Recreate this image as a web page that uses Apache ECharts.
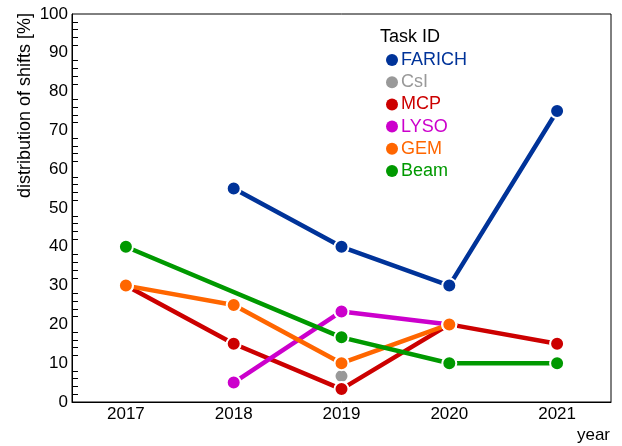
<!DOCTYPE html>
<html><head><meta charset="utf-8">
<script src="https://cdn.jsdelivr.net/npm/echarts@6/dist/echarts.min.js"></script>
<style>html,body{margin:0;padding:0;background:#fff}#c{width:622px;height:446px}</style>
</head><body><div id="c"></div>
<script>
const years = ['2017','2018','2019','2020','2021'];
const seriesNames = ['FARICH','CsI','MCP','LYSO','GEM','Beam'];
const farich = [null, 55, 40, 30, 75];
const csi    = [null, null, 6.67, null, null];
const mcp    = [30, 15, 3.33, 20, 15];
const lyso   = [null, 5, 23.33, 20, null];
const gem    = [30, 25, 10, 20, null];
const beam   = [40, null, 16.67, 10, 10];
const colors = ['#003399','#999999','#cc0000','#cc00cc','#ff6600','#009900'];
const values = [farich, csi, mcp, lyso, gem, beam];

const FONT = '"Liberation Sans", Arial, sans-serif';
const chart = echarts.init(document.getElementById('c'));
chart.setOption({
  animation: false,
  textStyle: {fontFamily: FONT},
  grid: {left: 72, right: 11, top: 14, bottom: 44, show: true, borderColor: '#000', borderWidth: 1},
  legend: {
    orient: 'vertical', left: 381, top: 46,
    icon: 'circle', itemWidth: 12, itemHeight: 12, itemGap: 4.2,
    itemStyle: {borderWidth: 0},
    textStyle: {fontSize: 18, fontFamily: FONT, lineHeight: 18, padding: [0,0,0,-2]},
    data: seriesNames.map((n, i) => ({name: n, textStyle: {color: colors[i]}}))
  },
  xAxis: {
    type: 'category', data: years, boundaryGap: true,
    axisLine: {lineStyle: {color: '#000', width: 1}},
    axisTick: {inside: true, alignWithLabel: true, length: 9, lineStyle: {color: '#000'}},
    axisLabel: {fontSize: 17, color: '#000', margin: 4, fontFamily: FONT},
    splitLine: {show: false}
  },
  yAxis: {
    type: 'value', min: 0, max: 100, interval: 10,
    axisLine: {show: true, lineStyle: {color: '#000', width: 1}},
    axisTick: {inside: true, length: 10, lineStyle: {color: '#000'}},
    minorTick: {show: true, splitNumber: 5, length: 6, lineStyle: {color: '#000'}},
    axisLabel: {fontSize: 17, color: '#000', margin: 4, fontFamily: FONT},
    splitLine: {show: false}
  },
  graphic: [
    {type: 'text', left: 380, top: 28, style: {text: 'Task ID', fontSize: 18, fill: '#000', fontFamily: FONT}},
    {type: 'text', x: 25, y: 13, rotation: Math.PI / 2,
     style: {text: 'distribution of shifts [%]', fontSize: 18, fill: '#000', fontFamily: FONT, align: 'right', verticalAlign: 'middle'}},
    {type: 'text', right: 12, top: 427, style: {text: 'year', fontSize: 17, fill: '#000', fontFamily: FONT}}
  ],
  series: seriesNames.map((n, i) => ({
    name: n, type: 'line', data: values[i], connectNulls: true,
    symbol: 'circle', symbolSize: 14, showSymbol: true,
    lineStyle: {width: 4.5, color: colors[i]},
    itemStyle: {color: colors[i], borderColor: '#fff', borderWidth: 2},
    emphasis: {disabled: true}
  }))
});
</script></body></html>
